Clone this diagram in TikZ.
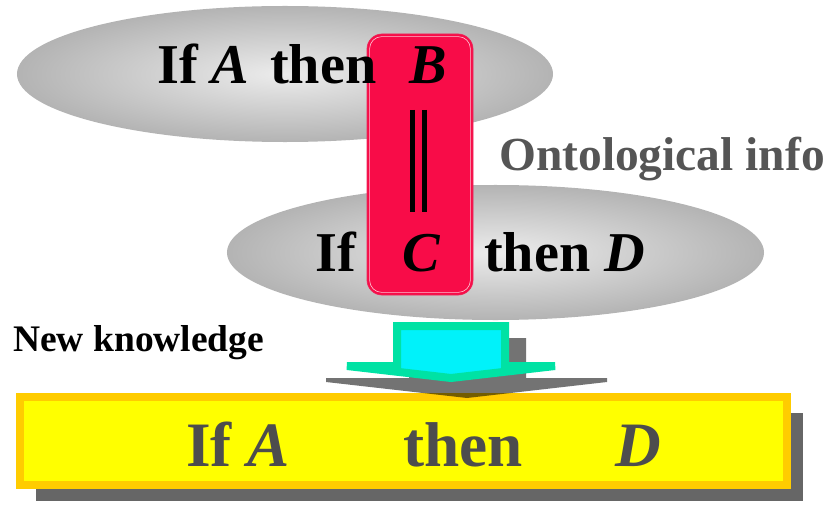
\documentclass[tikz,border=0pt]{standalone}
\usepackage{fontspec}
\setmainfont{Liberation Serif}
\usepackage{tikz}
\usetikzlibrary{shapes.geometric,shadows}
\definecolor{ellin}{RGB}{236,236,236}
\definecolor{ellout}{RGB}{150,150,150}
\definecolor{bridgered}{RGB}{248,12,72}
\definecolor{bridgeline}{RGB}{235,40,90}
\definecolor{arrowcyan}{RGB}{0,242,250}
\definecolor{arrowgreen}{RGB}{0,226,164}
\definecolor{conclyellow}{RGB}{255,255,0}
\definecolor{conclorange}{RGB}{255,204,0}
\definecolor{infogray}{RGB}{85,85,85}
\definecolor{concltext}{RGB}{77,77,77}
\pgfdeclareradialshading{ellshade}{\pgfpoint{0bp}{0bp}}{color(0bp)=(ellin); color(38bp)=(ellout); color(72bp)=(ellout)}

\begin{document}
\begin{tikzpicture}[
    x=0.03cm, y=-0.03cm,
    every node/.style={inner sep=0pt},
    ellbox/.style={ellipse, shade, shading=ellshade},
    rulefont/.style={font=\fontsize{48}{48}\selectfont\bfseries},
    conclfont/.style={font=\fontsize{54}{54}\selectfont\bfseries, text=concltext},
    bridge/.style={rectangle, rounded corners=0.45cm, fill=bridgered, draw=bridgeline, line width=0.6pt},
    eqbar/.style={line width=0.15cm},
    concl/.style={rectangle, fill=conclyellow, draw=conclorange, line width=0.24cm,
        drop shadow={shadow xshift=0.48cm, shadow yshift=-0.48cm, fill=black!60, opacity=1}}
]
\useasboundingbox (0,0) rectangle (831,506);

% the two rules
\node[ellbox, minimum width=16.08cm, minimum height=4.08cm] (rule1) at (285,74) {};
\node[ellbox, minimum width=16.11cm, minimum height=4.05cm] (rule2) at (495.5,252.5) {};

% ontology link B = C
\node[bridge, minimum width=3.18cm, minimum height=7.83cm] (link) at (420,164.5) {};
\draw[white!75!bridgered, line width=0.5pt, rounded corners=0.36cm]
    ([shift={(3,3)}]link.north west) rectangle ([shift={(-3,-3)}]link.south east);
\draw[eqbar] (412.5,110) -- (412.5,212);
\draw[eqbar] (424.5,110) -- (424.5,212);

\node[rulefont, anchor=base west] (r1if) at (157,84) {If \textit{A}};
\node[rulefont, anchor=base west] (r1then) at (270,84) {then};
\node[rulefont, anchor=base west] (r1b) at (409,84) {\textit{B}};
\node[rulefont, anchor=base west] (r2if) at (315,271) {If};
\node[rulefont, anchor=base west] (r2c) at (402,271) {\textit{C}};
\node[rulefont, anchor=base west] (r2then) at (484,271) {then \textit{D}};

\node[font=\fontsize{40.5}{40.5}\selectfont\bfseries, text=infogray, anchor=base west] (info) at (499,170) {Ontological info};
\node[font=\fontsize{32}{32}\selectfont\bfseries, anchor=base west] (newk) at (13,351) {New knowledge};

% conclusion
\node[concl, minimum width=23.01cm, minimum height=2.64cm] (result) at (403.5,441) {};

% block arrow with its shadow
\fill[black, fill opacity=0.55]
    (409,338) -- (526,338) -- (526,378) -- (607,378) -- (607,382) -- (467,398)
    -- (326,382) -- (326,378) -- (409,378) -- cycle;
\draw[fill=arrowcyan, draw=arrowgreen, line width=0.24cm]
    (397,326) -- (505,326) -- (505,366) -- (555,366) -- (451,378)
    -- (347,366) -- (397,366) -- cycle;

\node[conclfont, anchor=base west] (cif) at (186,466) {If \textit{A}};
\node[conclfont, anchor=base west] (cthen) at (403,466) {then};
\node[conclfont, anchor=base west] (cd) at (615,466) {\textit{D}};
\end{tikzpicture}
\end{document}
